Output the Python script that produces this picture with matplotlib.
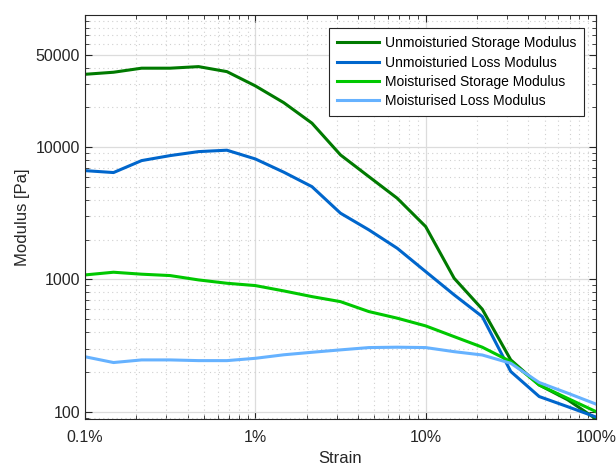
import numpy as np
import matplotlib
matplotlib.use("Agg")
import matplotlib.pyplot as plt
from matplotlib.ticker import FixedLocator, FixedFormatter, LogLocator, NullFormatter

plt.rcParams["font.family"] = ["Liberation Sans", "DejaVu Sans"]

# strain in %, 6 points per decade
strain = [0.1, 0.147, 0.215, 0.316, 0.464, 0.681, 1.0, 1.47, 2.15, 3.16,
          4.64, 6.81, 10.0, 14.7, 21.5, 31.6, 46.4, 68.1, 100.0]

unmoist_storage = [35600, 36900, 39600, 39600, 40700, 37300, 29100, 21700, 15200, 8750,
                   5990, 4110, 2510, 1020, 595, 246, 159, 123, 88]
unmoist_loss = [6650, 6430, 7920, 8640, 9260, 9490, 8150, 6470, 5030, 3170,
                2370, 1720, 1146, 764, 523, 201, 130, 109, 91]
moist_storage = [1081, 1133, 1095, 1069, 991, 935, 898, 818, 741, 679,
                 571, 509, 445, 369, 307, 239, 159, 126, 100]
moist_loss = [260, 235, 246, 246, 243, 243, 253, 269, 281, 293,
              305, 307, 305, 284, 268, 232, 166, 138, 114]

series = [
    ("Unmoisturied Storage Modulus", unmoist_storage, "#007A00"),
    ("Unmoisturied Loss Modulus", unmoist_loss, "#0066CC"),
    ("Moisturised Storage Modulus", moist_storage, "#00C800"),
    ("Moisturised Loss Modulus", moist_loss, "#66B2FF"),
]

x_ticks = [0.1, 1, 10, 100]
x_labels = ["0.1%", "1%", "10%", "100%"]
y_ticks = [100, 1000, 10000, 50000]
y_labels = ["100", "1000", "10000", "50000"]

fig = plt.figure(figsize=(6.16, 4.66), dpi=100)
ax = fig.add_axes([0.138, 0.101, 0.8295, 0.8668])

for name, vals, col in series:
    ax.plot(strain, vals, color=col, lw=2.2, label=name)

ax.set_xscale("log")
ax.set_yscale("log")
ax.set_xlim(0.1, 100)
ax.set_ylim(88, 100000)

ax.xaxis.set_major_locator(FixedLocator(x_ticks))
ax.xaxis.set_major_formatter(FixedFormatter(x_labels))
ax.yaxis.set_major_locator(FixedLocator(y_ticks))
ax.yaxis.set_major_formatter(FixedFormatter(y_labels))
ax.xaxis.set_minor_locator(LogLocator(base=10, subs=np.arange(2, 10)))
ax.yaxis.set_minor_locator(LogLocator(base=10, subs=np.arange(2, 10)))
ax.xaxis.set_minor_formatter(NullFormatter())
ax.yaxis.set_minor_formatter(NullFormatter())

ax.grid(which="major", color="#dcdcdc", lw=0.9, ls="-")
ax.grid(which="minor", color="#d0d0d0", lw=0.8, ls=(0, (1, 3)))
ax.set_axisbelow(True)

ax.tick_params(which="both", direction="in", top=True, right=True, colors="#262626",
               labelsize=11.5)
ax.tick_params(which="major", length=5)
ax.tick_params(which="minor", length=3)
ax.tick_params(axis="x", pad=8)
for s in ax.spines.values():
    s.set_color("#262626")
    s.set_linewidth(0.8)

ax.set_xlabel("Strain", fontsize=12, color="#262626", labelpad=4)
ax.set_ylabel("Modulus [Pa]", fontsize=12, color="#262626", labelpad=4)

leg = ax.legend(loc="upper right", bbox_to_anchor=(0.977, 0.968), fontsize=10,
                fancybox=False, framealpha=1, edgecolor="#262626",
                handlelength=3.0, labelspacing=0.38, borderpad=0.6, handletextpad=0.4,
                borderaxespad=0)
leg.get_frame().set_linewidth(0.8)

fig.savefig("out.png", dpi=100)
